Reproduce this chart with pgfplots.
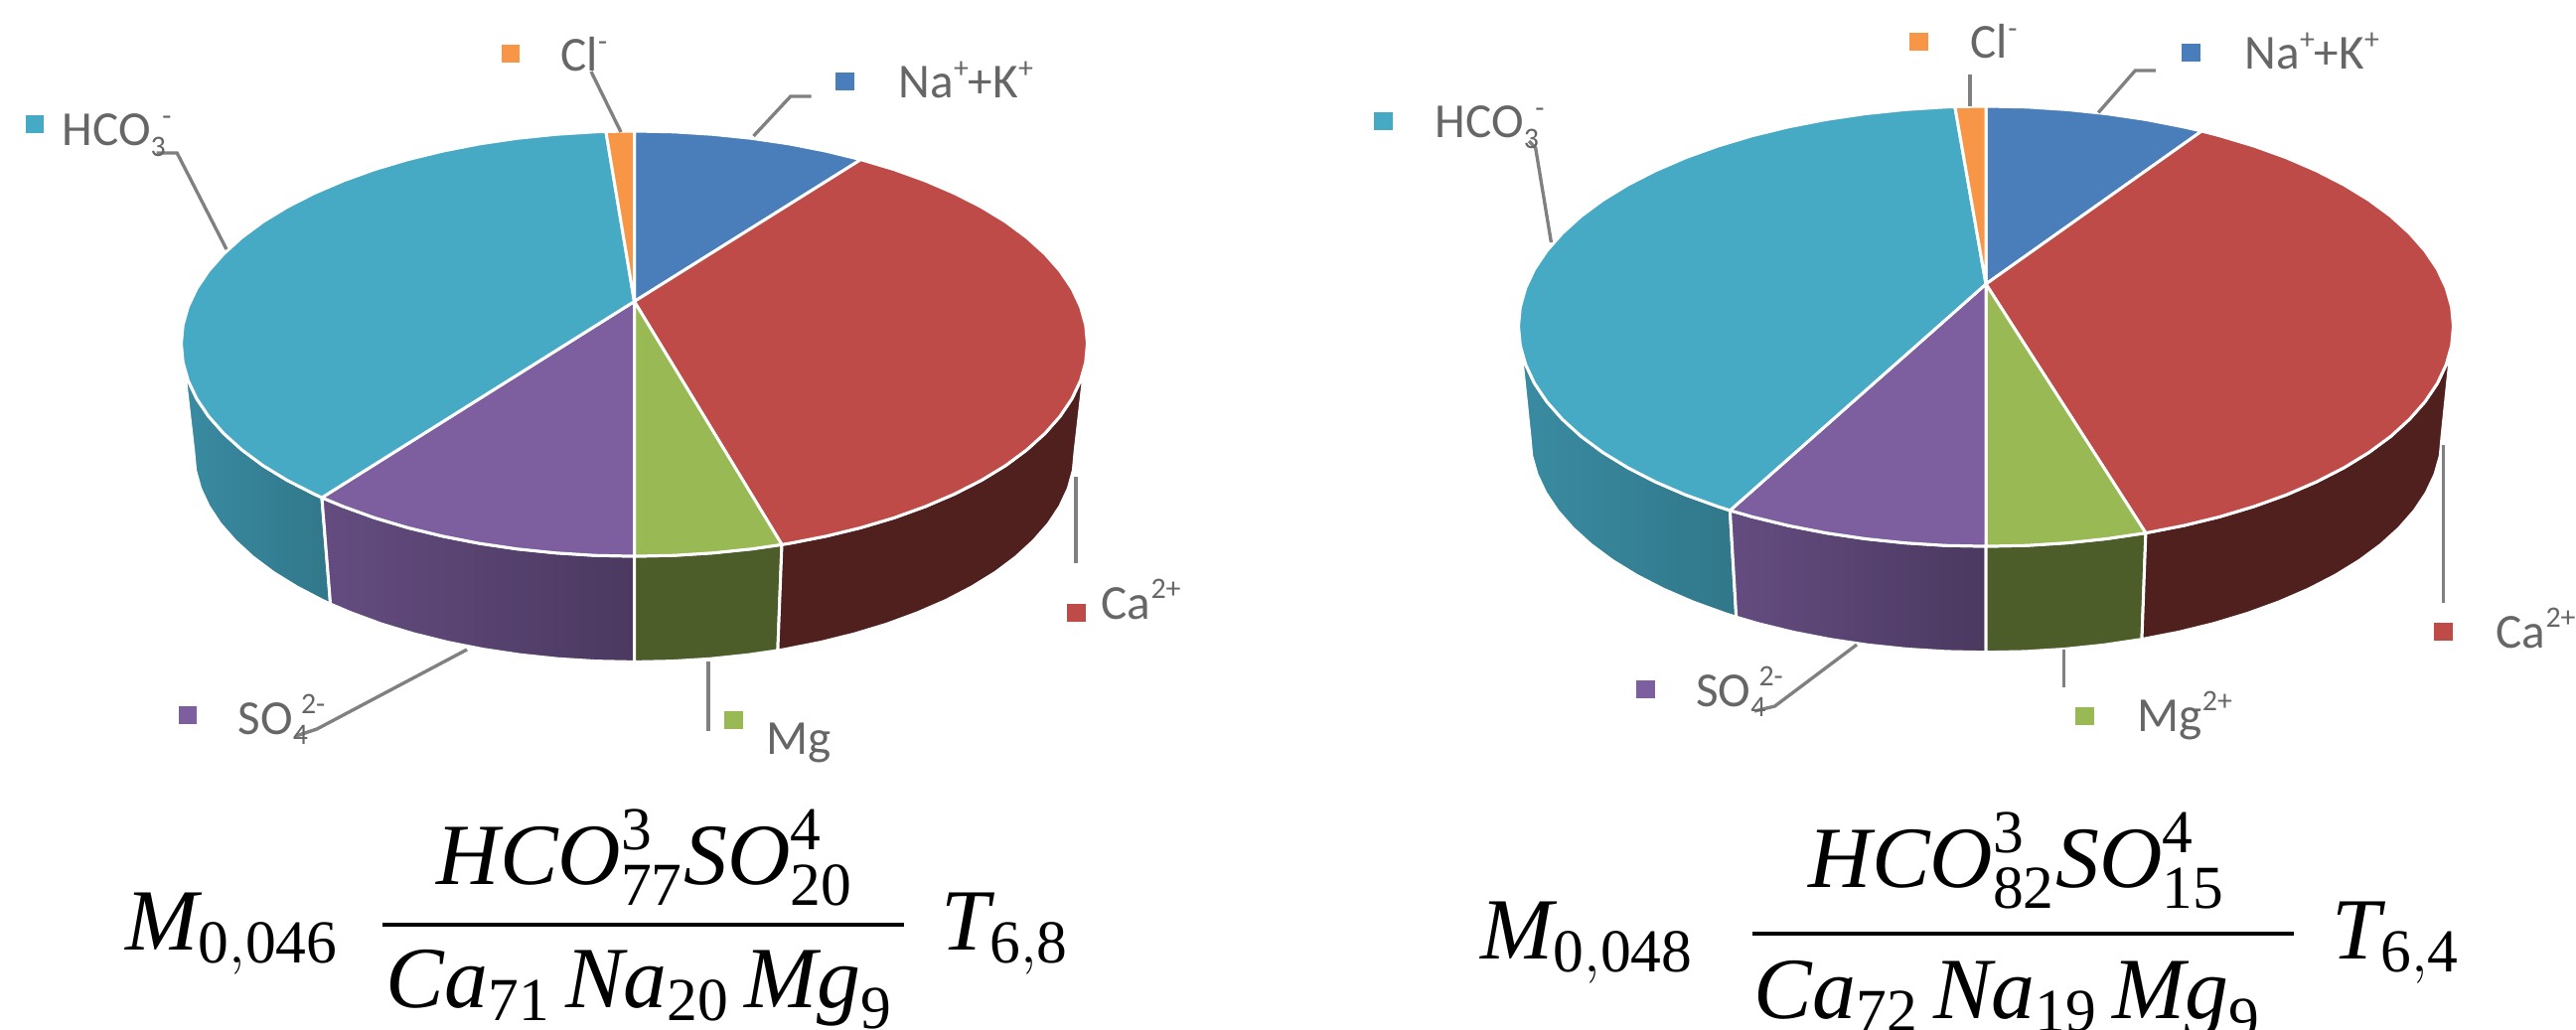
\documentclass[border=0pt]{standalone}
\usepackage{fontspec}
\usepackage{pgfplots}
\pgfplotsset{compat=1.18}
\setmainfont{Liberation Serif}
\newfontfamily\labelfont{Carlito}

\definecolor{cblue}{HTML}{4A7EBB}
\definecolor{cred}{HTML}{BE4B48}
\definecolor{cgreen}{HTML}{98B954}
\definecolor{cpurple}{HTML}{7D5FA0}
\definecolor{cteal}{HTML}{46AAC5}
\definecolor{corange}{HTML}{F79646}
\definecolor{cleader}{HTML}{808080}
\definecolor{ctext}{HTML}{666666}

\pgfplotsset{
    wedge/.style={fill=#1, draw=white, line width=0.85pt, line join=round},
    side/.style 2 args={left color=#1, right color=#2, draw=white, line width=0.85pt, line join=round},
    leader/.style={draw=cleader, line width=0.95pt},
    key/.style={only marks, mark=square*, mark size=2.5pt, mark options={fill=#1, draw=#1}},
}
\newcommand{\lab}[1]{\labelfont\fontsize{14}{17}\selectfont\color{ctext}#1}
\newcommand{\sups}[1]{\raisebox{.42em}{\fontsize{8.5}{8.5}\selectfont #1}}
\newcommand{\subs}[1]{\raisebox{-.22em}{\fontsize{8.5}{8.5}\selectfont #1}}
\newcommand{\fm}[1]{\fontsize{25}{30}\selectfont$#1$}

\begin{document}
\begin{tikzpicture}
\useasboundingbox (0,0) rectangle (25.93,10.37);
% coordinates are pixels of the reference image, y downwards
\begin{axis}[
    scale only axis, width=25.93cm, height=10.37cm,
    xmin=0, xmax=2593, ymin=0, ymax=1037, y dir=reverse,
    axis lines=none, clip=false,
]
% ---- left pie, sides
\addplot[side={cteal!82!black}{cteal!70!black}] coordinates {
    (324,501) (316.1,497.3) (289.2,483.6) (264.9,468.8) (243.6,453) (225.2,436.4) (210,419.2) (198,401.4) (189.4,383.2) (184.2,364.7) (182.5,346)
    (194.9,455) (196.6,473.4) (201.6,491.7) (210,509.7) (221.6,527.3) (236.5,544.3) (254.3,560.7) (275.1,576.3) (298.7,590.9) (324.8,604.5) (332.6,608.1)} -- cycle;
\addplot[side={cpurple!80!black}{cpurple!60!black}] coordinates {
    (638.5,560) (598.7,559.2) (559.3,556.7) (520.5,552.7) (482.5,547.1) (445.8,539.9) (410.5,531.3) (376.9,521.3) (345.4,509.9) (324,501)
    (332.6,608.1) (353.4,616.9) (384,628.2) (416.7,638.1) (451,646.6) (486.8,653.7) (523.7,659.2) (561.5,663.2) (599.8,665.6) (638.5,666.4)} -- cycle;
\addplot[side={cgreen!50!black}{cgreen!50!black}] coordinates {
    (787,548.3) (756.5,552.7) (717.7,556.7) (678.3,559.2) (638.5,560)
    (638.5,666.4) (677.2,665.6) (715.5,663.2) (753.3,659.2) (782.9,654.9)} -- cycle;
\addplot[side={cred!42!black}{cred!42!black}] coordinates {
    (1094.5,346) (1092.8,364.7) (1087.6,383.2) (1079,401.4) (1067,419.2) (1051.8,436.4) (1033.4,453) (1012.1,468.8) (987.8,483.6) (960.9,497.3) (931.6,509.9) (900.1,521.3) (866.5,531.3) (831.2,539.9) (794.5,547.1) (787,548.3)
    (782.9,654.9) (790.2,653.7) (826,646.6) (860.3,638.1) (893,628.2) (923.6,616.9) (952.2,604.5) (978.3,590.9) (1001.9,576.3) (1022.7,560.7) (1040.5,544.3) (1055.4,527.3) (1067,509.7) (1075.4,491.7) (1080.4,473.4) (1082.1,455)} -- cycle;
% ---- left pie, top
\addplot[wedge=cblue] coordinates {
    (638.5,303.5) (638.5,132) (678.3,132.8) (717.7,135.3) (756.5,139.3) (794.5,144.9) (831.2,152.1) (866.5,160.7)} -- cycle;
\addplot[wedge=cred] coordinates {
    (638.5,303.5) (866.5,160.7) (900.1,170.7) (931.6,182.1) (960.9,194.7) (987.8,208.4) (1012.1,223.2) (1033.4,239) (1051.8,255.6) (1067,272.8) (1079,290.6) (1087.6,308.8) (1092.8,327.3) (1094.5,346)
    (1092.8,364.7) (1087.6,383.2) (1079,401.4) (1067,419.2) (1051.8,436.4) (1033.4,453) (1012.1,468.8) (987.8,483.6) (960.9,497.3) (931.6,509.9) (900.1,521.3) (866.5,531.3) (831.2,539.9) (794.5,547.1) (787,548.3)} -- cycle;
\addplot[wedge=cgreen] coordinates {
    (638.5,303.5) (787,548.3) (756.5,552.7) (717.7,556.7) (678.3,559.2) (638.5,560)} -- cycle;
\addplot[wedge=cpurple] coordinates {
    (638.5,303.5) (638.5,560) (598.7,559.2) (559.3,556.7) (520.5,552.7) (482.5,547.1) (445.8,539.9) (410.5,531.3) (376.9,521.3) (345.4,509.9) (324,501)} -- cycle;
\addplot[wedge=cteal] coordinates {
    (638.5,303.5) (324,501) (316.1,497.3) (289.2,483.6) (264.9,468.8) (243.6,453) (225.2,436.4) (210,419.2) (198,401.4) (189.4,383.2) (184.2,364.7) (182.5,346) (184.2,327.3) (189.4,308.8) (198,290.6) (210,272.8)
    (225.2,255.6) (243.6,239) (264.9,223.2) (289.2,208.4) (316.1,194.7) (345.4,182.1) (376.9,170.7) (410.5,160.7) (445.8,152.1) (482.5,144.9) (520.5,139.3) (559.3,135.3) (598.7,132.8) (609.9,132.4)} -- cycle;
\addplot[wedge=corange] coordinates {
    (638.5,303.5) (609.9,132.4) (638.5,132)} -- cycle;
% ---- left pie, leaders
\addplot[leader] coordinates {(595,72) (625,133)};
\addplot[leader] coordinates {(816.6,97) (795.8,97) (758.5,137)};
\addplot[leader] coordinates {(157.5,154) (178.2,154) (228,251)};
\addplot[leader] coordinates {(1083,480) (1083,567)};
\addplot[leader] coordinates {(713,666) (713,736)};
\addplot[leader] coordinates {(470,654) (319,734) (298,741)};
% ---- left pie, keys
\addplot[key=corange] coordinates {(514,54)};
\addplot[key=cblue] coordinates {(850,82)};
\addplot[key=cteal] coordinates {(35,125)};
\addplot[key=cred] coordinates {(1083,617)};
\addplot[key=cgreen] coordinates {(738,725)};
\addplot[key=cpurple] coordinates {(189,720)};
\node[anchor=base west, inner sep=0pt] at (axis cs:564,72) {\lab{Cl\sups{-}}};
\node[anchor=base west, inner sep=0pt] at (axis cs:904,99) {\lab{Na\sups{+}+K\sups{+}}};
\node[anchor=base west, inner sep=0pt] at (axis cs:62,147) {\lab{HCO\subs{3}\kern-1pt\sups{-}}};
\node[anchor=base west, inner sep=0pt] at (axis cs:1108,623) {\lab{Ca\sups{2+}}};
\node[anchor=base west, inner sep=0pt] at (axis cs:771,759) {\lab{Mg}};
\node[anchor=base west, inner sep=0pt] at (axis cs:239,739) {\lab{SO\subs{4}\kern-2pt\sups{2-}}};

% ---- right pie, sides
\addplot[side={cteal!82!black}{cteal!70!black}] coordinates {
    (1741.4,513.9) (1729.1,509.9) (1696.6,498.2) (1666.3,485.1) (1638.6,470.9) (1613.6,455.6) (1591.5,439.3) (1572.6,422.1) (1556.9,404.3) (1544.5,385.8) (1535.7,367) (1530.3,347.8) (1528.5,328.5)
    (1540,440) (1541.7,458.9) (1547,477.6) (1555.7,496.1) (1567.7,514.1) (1583,531.6) (1601.5,548.4) (1623,564.3) (1647.4,579.3) (1674.4,593.2) (1704,606) (1735.7,617.5) (1747.7,621.3)} -- cycle;
\addplot[side={cpurple!80!black}{cpurple!60!black}] coordinates {
    (1999,550) (1958,549.2) (1917.3,546.6) (1877.2,542.4) (1838.1,536.6) (1800.2,529.2) (1763.7,520.3) (1741.4,513.9)
    (1747.7,621.3) (1769.5,627.7) (1805,636.4) (1842,643.6) (1880.2,649.3) (1919.3,653.4) (1959,655.9) (1999,656.7)} -- cycle;
\addplot[side={cgreen!50!black}{cgreen!50!black}] coordinates {
    (2159.9,536.6) (2120.8,542.4) (2080.7,546.6) (2040,549.2) (1999,550)
    (1999,656.7) (2039,655.9) (2078.7,653.4) (2117.8,649.3) (2156,643.6)} -- cycle;
\addplot[side={cred!42!black}{cred!42!black}] coordinates {
    (2469.5,328.5) (2467.7,347.8) (2462.3,367) (2453.5,385.8) (2441.1,404.3) (2425.4,422.1) (2406.5,439.3) (2384.4,455.6) (2359.4,470.9) (2331.7,485.1) (2301.4,498.2) (2268.9,509.9) (2234.3,520.3) (2197.8,529.2) (2159.9,536.6)
    (2156,643.6) (2193,636.4) (2228.5,627.7) (2262.3,617.5) (2294,606) (2323.6,593.2) (2350.6,579.3) (2375,564.3) (2396.5,548.4) (2415,531.6) (2430.3,514.1) (2442.3,496.1) (2451,477.6) (2456.3,458.9) (2458,440)} -- cycle;
% ---- right pie, top
\addplot[wedge=cblue] coordinates {
    (1999,286) (1999,107) (2040,107.8) (2080.7,110.4) (2120.8,114.6) (2159.9,120.4) (2197.8,127.8) (2216.2,132)} -- cycle;
\addplot[wedge=cred] coordinates {
    (1999,286) (2216.2,132) (2234.3,136.7) (2268.9,147.1) (2301.4,158.8) (2331.7,171.9) (2359.4,186.1) (2384.4,201.4) (2406.5,217.7) (2425.4,234.9) (2441.1,252.7) (2453.5,271.2) (2462.3,290) (2467.7,309.2) (2469.5,328.5)
    (2467.7,347.8) (2462.3,367) (2453.5,385.8) (2441.1,404.3) (2425.4,422.1) (2406.5,439.3) (2384.4,455.6) (2359.4,470.9) (2331.7,485.1) (2301.4,498.2) (2268.9,509.9) (2234.3,520.3) (2197.8,529.2) (2159.9,536.6)} -- cycle;
\addplot[wedge=cgreen] coordinates {
    (1999,286) (2159.9,536.6) (2120.8,542.4) (2080.7,546.6) (2040,549.2) (1999,550)} -- cycle;
\addplot[wedge=cpurple] coordinates {
    (1999,286) (1999,550) (1958,549.2) (1917.3,546.6) (1877.2,542.4) (1838.1,536.6) (1800.2,529.2) (1763.7,520.3) (1741.4,513.9)} -- cycle;
\addplot[wedge=cteal] coordinates {
    (1999,286) (1741.4,513.9) (1729.1,509.9) (1696.6,498.2) (1666.3,485.1) (1638.6,470.9) (1613.6,455.6) (1591.5,439.3) (1572.6,422.1) (1556.9,404.3) (1544.5,385.8) (1535.7,367) (1530.3,347.8) (1528.5,328.5) (1530.3,309.2) (1535.7,290)
    (1544.5,271.2) (1556.9,252.7) (1572.6,234.9) (1591.5,217.7) (1613.6,201.4) (1638.6,186.1) (1666.3,171.9) (1696.6,158.8) (1729.1,147.1) (1763.7,136.7) (1800.2,127.8) (1838.1,120.4) (1877.2,114.6) (1917.3,110.4) (1958,107.8) (1967.8,107.5)} -- cycle;
\addplot[wedge=corange] coordinates {
    (1999,286) (1967.8,107.5) (1999,107)} -- cycle;
% ---- right pie, leaders
\addplot[leader] coordinates {(1983,75) (1983,107)};
\addplot[leader] coordinates {(2170,71) (2149.3,71) (2112.2,113.4)};
\addplot[leader] coordinates {(1539,142) (1545.7,149) (1561.4,244)};
\addplot[leader] coordinates {(2459.4,448) (2459.4,607)};
\addplot[leader] coordinates {(2077.6,654) (2077.6,691.5)};
\addplot[leader] coordinates {(1869,649) (1786.5,711) (1766,716)};
% ---- right pie, keys
\addplot[key=corange] coordinates {(1931,42)};
\addplot[key=cblue] coordinates {(2205.4,53)};
\addplot[key=cteal] coordinates {(1392.4,122)};
\addplot[key=cred] coordinates {(2459.4,636)};
\addplot[key=cgreen] coordinates {(2098,721)};
\addplot[key=cpurple] coordinates {(1656,694)};
\node[anchor=base west, inner sep=0pt] at (axis cs:1983,59) {\lab{Cl\sups{-}}};
\node[anchor=base west, inner sep=0pt] at (axis cs:2259,70) {\lab{Na\sups{+}+K\sups{+}}};
\node[anchor=base west, inner sep=0pt] at (axis cs:1444,139) {\lab{HCO\subs{3}\kern-1pt\sups{-}}};
\node[anchor=base west, inner sep=0pt] at (axis cs:2512,652) {\lab{Ca\sups{2+}}};
\node[anchor=base west, inner sep=0pt] at (axis cs:2151,736) {\lab{Mg\sups{2+}}};
\node[anchor=base west, inner sep=0pt] at (axis cs:1706.5,711) {\lab{SO\subs{4}\kern-2pt\sups{2-}}};

% ---- formulas
\addplot[black, line width=1.4pt] coordinates {(385,931) (910,931)};
\node[anchor=base west, inner sep=0pt] at (axis cs:126,956) {\fm{\mathit{M}_{\mathrm{0{,}046}}}};
\node[anchor=base west, inner sep=0pt] at (axis cs:439,890) {\fm{\mathit{HCO}^{\mathrm{3}}_{\mathrm{77}}\mathit{SO}^{\mathrm{4}}_{\mathrm{20}}}};
\node[anchor=base west, inner sep=0pt] at (axis cs:388,1014) {\fm{\mathit{Ca}_{\mathrm{71}}\,\mathit{Na}_{\mathrm{20}}\,\mathit{Mg}_{\mathrm{9}}}};
\node[anchor=base west, inner sep=0pt] at (axis cs:947,956) {\fm{\mathit{T}_{\mathrm{6{,}8}}}};

\addplot[black, line width=1.4pt] coordinates {(1763.5,940) (2309,940)};
\node[anchor=base west, inner sep=0pt] at (axis cs:1490,965) {\fm{\mathit{M}_{\mathrm{0{,}048}}}};
\node[anchor=base west, inner sep=0pt] at (axis cs:1820,893) {\fm{\mathit{HCO}^{\mathrm{3}}_{\mathrm{82}}\mathit{SO}^{\mathrm{4}}_{\mathrm{15}}}};
\node[anchor=base west, inner sep=0pt] at (axis cs:1765,1025) {\fm{\mathit{Ca}_{\mathrm{72}}\,\mathit{Na}_{\mathrm{19}}\,\mathit{Mg}_{\mathrm{9}}}};
\node[anchor=base west, inner sep=0pt] at (axis cs:2347,965) {\fm{\mathit{T}_{\mathrm{6{,}4}}}};
\end{axis}
\end{tikzpicture}
\end{document}
